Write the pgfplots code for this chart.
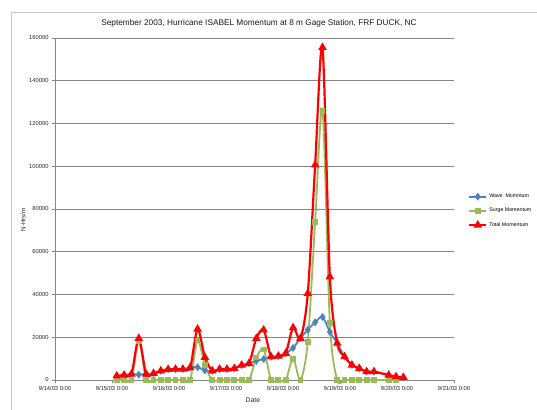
\documentclass[border=0pt]{standalone}
\usepackage{fontspec}
\setmainfont{Liberation Sans}
\usepackage{pgfplots}
\pgfplotsset{compat=1.18}
\usepackage{pgfplotstable}
\definecolor{wave}{RGB}{79,129,189}
\definecolor{surge}{RGB}{155,187,89}
\definecolor{total}{RGB}{255,0,0}
\definecolor{gridc}{RGB}{134,134,134}

\pgfplotstableread{
x y
15.083 1900
15.212 2300
15.341 2800
15.470 2500
15.599 2800
15.728 3100
15.856 4300
15.985 5000
16.114 5100
16.243 5100
16.372 5900
16.501 6000
16.630 4500
16.759 4300
16.888 5100
17.017 5100
17.146 5400
17.275 7000
17.404 7800
17.533 9000
17.661 9800
17.790 10900
17.919 11200
18.048 12500
18.177 15000
18.306 19500
18.435 23500
18.564 27000
18.693 29500
18.822 22500
18.951 17200
19.080 10900
19.209 7000
19.338 5450
19.467 3900
19.596 3900
19.854 2300
19.983 1550
20.112 1250
}\wavetab

\pgfplotstableread{
x y
15.083 0
15.212 0
15.341 0
15.470 18000
15.599 0
15.728 0
15.856 0
15.985 0
16.114 0
16.243 0
16.372 0
16.501 18500
16.630 7000
16.759 0
16.888 0
17.017 0
17.146 0
17.275 0
17.404 0
17.533 10500
17.661 14300
17.790 0
17.919 0
18.048 0
18.177 10000
18.306 0
18.435 17900
18.564 74000
18.693 126000
18.822 26800
18.951 0
19.080 0
19.209 0
19.338 0
19.467 0
19.596 0
19.854 0
19.983 0
}\surgetab

\pgfplotstableread{
x y
15.083 1900
15.212 2300
15.341 2800
15.470 19500
15.599 2800
15.728 3100
15.856 4300
15.985 5000
16.114 5100
16.243 5100
16.372 5900
16.501 23800
16.630 10600
16.759 4300
16.888 5100
17.017 5100
17.146 5400
17.275 7000
17.404 7800
17.533 19500
17.661 23400
17.790 10900
17.919 11200
18.048 12500
18.177 24500
18.306 19500
18.435 40500
18.564 100600
18.693 155600
18.822 48300
18.951 17200
19.080 10900
19.209 7000
19.338 5450
19.467 3900
19.596 3900
19.854 2300
19.983 1550
20.112 1250
}\totaltab

\begin{document}
\begin{tikzpicture}
\useasboundingbox (0bp,0bp) rectangle (537bp,410bp);
\draw[gray!45, line width=0.8bp] (11bp,0bp) -- (11bp,398bp) -- (537bp,398bp);
\begin{axis}[
  at={(55bp,30bp)}, anchor=south west,
  scale only axis, width=399bp, height=342bp,
  xmin=14, xmax=21, ymin=0, ymax=160000,
  xtick={14,15,16,17,18,19,20,21},
  xticklabels={9/14/03 0:00,9/15/03 0:00,9/16/03 0:00,9/17/03 0:00,9/18/03 0:00,9/19/03 0:00,9/20/03 0:00,9/21/03 0:00},
  ytick={0,20000,40000,60000,80000,100000,120000,140000,160000},
  scaled y ticks=false,
  yticklabel style={/pgf/number format/fixed, /pgf/number format/1000 sep={}},
  /pgf/number format/assume math mode=true,
  axis lines*=left,
  axis line style={gridc, line width=0.8bp},
  ymajorgrids, grid style={gridc, line width=0.8bp},
  tick style={gridc, line width=0.8bp},
  tick align=outside, major tick length=3bp,
  ticklabel style={font=\fontsize{5.8}{6.5}\selectfont, text=black!85},
  xlabel={Date}, ylabel={N-Hrs/m},
  xlabel style={at={(axis description cs:0.496,-0.0585)}, anchor=center, font=\fontsize{6.8}{7.5}\selectfont, text=black!85},
  ylabel style={at={(axis description cs:-0.080,0.468)}, anchor=center, font=\fontsize{6.2}{7}\selectfont, text=black!85},
  clip=false,
  legend style={at={(1.035,0.55)}, anchor=north west, draw=none, fill=none,
    font=\fontsize{5.3}{6}\selectfont, row sep=5bp, inner sep=0pt},
  legend cell align=left,
]
\addplot[wave, line width=1.8bp, smooth, mark=diamond*, mark size=2.5bp, mark options={solid, fill=wave, draw=wave}] table[x=x,y=y] {\wavetab};
\addlegendentry{Wave~~Momntum}
\addplot[surge, line width=1.8bp, smooth, mark=square*, mark size=2bp, mark options={solid, fill=surge, draw=surge}] table[x=x,y=y] {\surgetab};
\addlegendentry{Surge Momentum}
\addplot[total, line width=2.2bp, smooth, mark=triangle*, mark size=2.8bp, mark options={solid, fill=total, draw=total}] table[x=x,y=y] {\totaltab};
\addlegendentry{Total Momentum}
\end{axis}
\node[font=\fontsize{8.3}{10}\selectfont, text=black!90] at (259bp,387bp) {September 2003, Hurricane ISABEL Momentum at 8 m Gage Station, FRF DUCK, NC};
\end{tikzpicture}
\end{document}
